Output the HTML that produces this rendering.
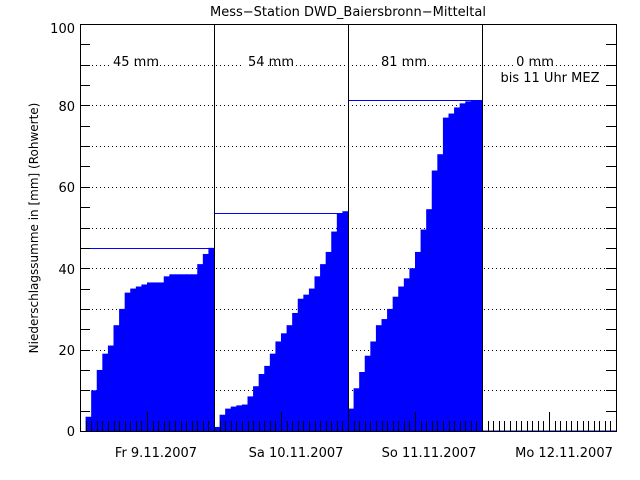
<!DOCTYPE html>
<html><head><meta charset="utf-8"><style>
body{margin:0;background:#fff}
svg{display:block;font-family:"DejaVu Sans","Liberation Sans",sans-serif}
text{font-size:13px;fill:#000}
</style></head><body>
<svg id="s" width="640" height="480" xmlns="http://www.w3.org/2000/svg">
<rect width="640" height="480" fill="#fff"/>
<g id="grid"></g>
<g id="bars"></g>
<g id="ticks"></g>
<rect x="80.5" y="24.5" width="536" height="407" fill="none" stroke="#000"/>
<line x1="214.5" y1="24" x2="214.5" y2="431" stroke="#000"/>
<line x1="348.5" y1="24" x2="348.5" y2="431" stroke="#000"/>
<line x1="482.5" y1="24" x2="482.5" y2="431" stroke="#000"/>
<text x="348" y="16" text-anchor="middle">Mess−Station DWD_Baiersbronn−Mitteltal</text>
<g text-anchor="end">
<text x="75" y="33">100</text><text x="75" y="111">80</text><text x="75" y="192">60</text>
<text x="75" y="274">40</text><text x="75" y="355">20</text><text x="75" y="436">0</text>
</g>
<text transform="translate(38,228) rotate(-90)" text-anchor="middle" style="font-size:12px">Niederschlagssumme in [mm] (Rohwerte)</text>
<g text-anchor="middle">
<rect x="110" y="55" width="24" height="14" fill="#fff"/><rect x="243" y="55" width="24" height="14" fill="#fff"/>
<rect x="377" y="55" width="24" height="14" fill="#fff"/><rect x="513" y="55" width="20" height="14" fill="#fff"/>
<text x="136" y="66">45 mm</text><text x="271" y="66">54 mm</text><text x="404" y="66">81 mm</text><text x="535" y="66">0 mm</text>
<text x="550" y="82">bis 11 Uhr MEZ</text>
<text x="156" y="457">Fr 9.11.2007</text><text x="296" y="457">Sa 10.11.2007</text>
<text x="429" y="457">So 11.11.2007</text><text x="564" y="457">Mo 12.11.2007</text>
</g>
</svg>
<script>
var NS="http://www.w3.org/2000/svg";
function Y(v){return 431-v*4.07;}
function el(p,t,a){var e=document.createElementNS(NS,t);for(var k in a)e.setAttribute(k,a[k]);document.getElementById(p).appendChild(e);}
for(var v=10;v<100;v+=10){el("grid","line",{x1:80,x2:616,y1:Math.round(Y(v))+.5,y2:Math.round(Y(v))+.5,stroke:"#000","stroke-dasharray":"1 3"});}
for(var v=5;v<100;v+=5){var y=Math.round(Y(v))+.5;el("ticks","line",{x1:80,x2:90,y1:y,y2:y,stroke:"#000"});el("ticks","line",{x1:606,x2:616,y1:y,y2:y,stroke:"#000"});}
var d=[[0,3.5,10,15,19,21,26,30,34,35,35.5,36,36.5,36.5,36.5,38,38.5,38.5,38.5,38.5,38.5,41,43.5,45],
[1,4,5.5,6,6.3,6.5,8.5,11,14,16,19,22,24,26,29,32.5,33.5,35,38,41,44,49,53.5,54],
[5.5,10.5,14.5,18.5,22,26,27.5,30,33,35.5,37.5,40,44,49.5,54.5,64,68,77,78,79.5,80.5,81,81.3,81.3]];
var mx=[45,53.5,81.3];
var w=134/24;
for(var k=0;k<3;k++){var x0=80+k*134;
for(var h=0;h<24;h++){var v=d[k][h];if(v<=0)continue;var xa=x0+h*w;el("bars","rect",{x:xa,y:Y(v),width:w+0.6,height:431-Y(v),fill:"#0000ff"});}
el("bars","line",{x1:x0,x2:x0+134,y1:Math.round(Y(mx[k]))+.5,y2:Math.round(Y(mx[k]))+.5,stroke:"#0000ff"});}
el("bars","line",{x1:482,x2:616,y1:431,y2:431,stroke:"#0000ff"});
for(var i=1;i<96;i++){var x=Math.round(80+i*w)+.5;var h=(i%24==12)?19:10;if(i%24==0)continue;el("ticks","line",{x1:x,x2:x,y1:431,y2:431-h,stroke:"#000"});}
</script>
</body></html>
